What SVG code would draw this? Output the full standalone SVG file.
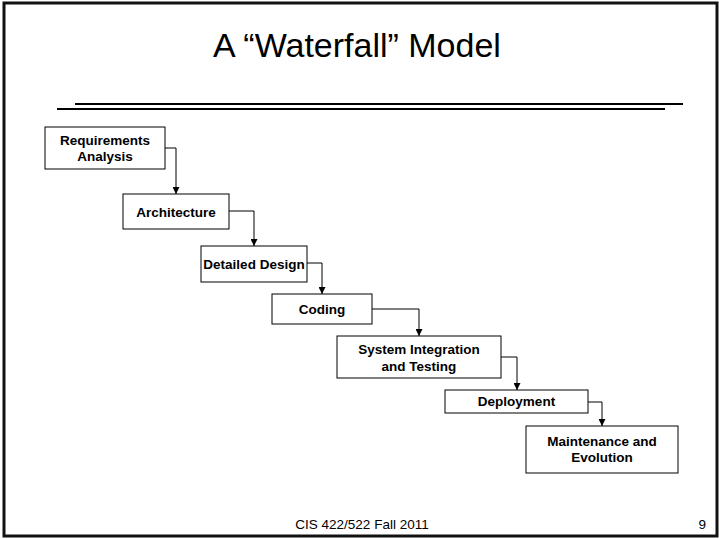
<svg xmlns="http://www.w3.org/2000/svg" width="719" height="539" viewBox="0 0 719 539">
<defs>
<style>
.box{fill:#fff;stroke:#000;stroke-width:1}
.lbl{font-family:"Liberation Sans",Arial,sans-serif;font-weight:bold;font-size:13.5px;text-anchor:middle;fill:#000}
.con{fill:none;stroke:#000;stroke-width:1}
</style>
<marker id="arr" viewBox="0 0 10 10" refX="10" refY="5" markerWidth="7" markerHeight="7" markerUnits="userSpaceOnUse" orient="auto">
<path d="M0,0 L10,5 L0,10 Z" fill="#000"/>
</marker>
</defs>
<rect x="0" y="0" width="719" height="539" fill="#fff"/>
<rect x="4" y="3" width="713" height="533" fill="#fff" stroke="#111" stroke-width="3"/>
<text x="357" y="57" font-family="'Liberation Sans',Arial,sans-serif" font-size="34" text-anchor="middle" fill="#000">A “Waterfall” Model</text>
<line x1="75" y1="104" x2="683" y2="104" stroke="#000" stroke-width="2"/>
<line x1="57" y1="109" x2="665" y2="109" stroke="#000" stroke-width="2"/>

<g id="connectors">
<path class="con" d="M165,148 H176 V194" marker-end="url(#arr)"/>
<path class="con" d="M229,211 H254 V246" marker-end="url(#arr)"/>
<path class="con" d="M307,263 H322 V294" marker-end="url(#arr)"/>
<path class="con" d="M372,309 H419 V336" marker-end="url(#arr)"/>
<path class="con" d="M501,357 H517 V390" marker-end="url(#arr)"/>
<path class="con" d="M588,402 H602 V426" marker-end="url(#arr)"/>
</g>

<g id="requirements">
<rect class="box" x="45" y="127" width="120" height="42"/>
<text class="lbl" x="105" y="145">Requirements</text>
<text class="lbl" x="105" y="161">Analysis</text>
</g>
<g id="architecture">
<rect class="box" x="123" y="194" width="106" height="35"/>
<text class="lbl" x="176" y="216.5">Architecture</text>
</g>
<g id="detailed-design">
<rect class="box" x="201" y="246" width="106" height="36"/>
<text class="lbl" x="254" y="269">Detailed Design</text>
</g>
<g id="coding">
<rect class="box" x="272" y="294" width="100" height="30"/>
<text class="lbl" x="322" y="314">Coding</text>
</g>
<g id="system-integration">
<rect class="box" x="337" y="336" width="164" height="42"/>
<text class="lbl" x="419" y="354">System Integration</text>
<text class="lbl" x="419" y="371">and Testing</text>
</g>
<g id="deployment">
<rect class="box" x="445" y="390" width="143" height="23"/>
<text class="lbl" x="516.5" y="406">Deployment</text>
</g>
<g id="maintenance">
<rect class="box" x="526" y="426" width="152" height="47"/>
<text class="lbl" x="602" y="446">Maintenance and</text>
<text class="lbl" x="602" y="462">Evolution</text>
</g>

<text x="362" y="529" font-family="'Liberation Sans',Arial,sans-serif" font-size="13.5" text-anchor="middle" fill="#000">CIS 422/522 Fall 2011</text>
<text x="706" y="529" font-family="'Liberation Sans',Arial,sans-serif" font-size="13.5" text-anchor="end" fill="#000">9</text>
</svg>
